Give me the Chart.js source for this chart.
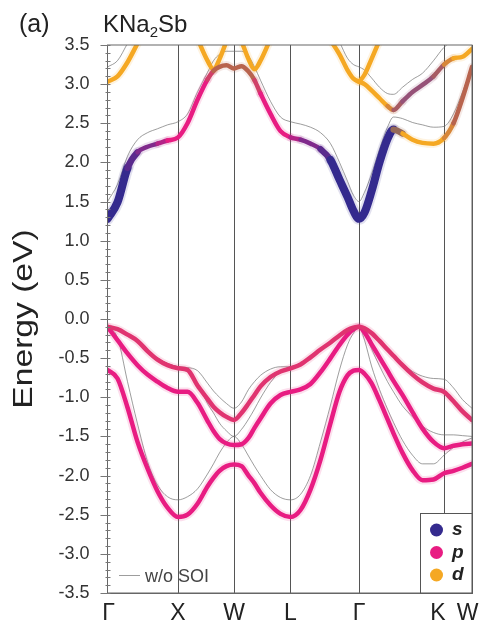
<!DOCTYPE html>
<html>
<head>
<meta charset="utf-8">
<script src="https://cdn.jsdelivr.net/npm/chart.js@4.4.1/dist/chart.umd.min.js"></script>
<style>
    body { margin: 0; background: #fff; }
    canvas { display: block; }
</style>
</head>
<body>
<canvas id="bandChart" width="479" height="625"></canvas>
<script>
// high-symmetry points along the path
var kNodes = [0, 0.705, 1.265, 1.83, 2.515, 3.365, 3.645];
var kLabels = ["Γ", "X", "W", "L", "Γ", "K", "W"];

// sampled k along Γ-X-W-L-Γ-K-W
var kPath = [
    0, 0.10, 0.20, 0.30, 0.40, 0.50, 0.60, 0.705,
    0.80, 0.90, 1.00, 1.06, 1.12, 1.19, 1.265,
    1.34, 1.41, 1.47, 1.53, 1.63, 1.73, 1.83,
    1.93, 2.03, 2.13, 2.23, 2.32, 2.40, 2.46, 2.515,
    2.57, 2.64, 2.72, 2.80, 2.86, 2.95, 3.05, 3.15, 3.26, 3.365,
    3.46, 3.55, 3.645
];

// bands with SOI (eV)
var vbHeavy = [
    -0.10, -0.13, -0.20, -0.28, -0.41, -0.52, -0.59, -0.63,
    -0.65, -0.85, -1.02, -1.12, -1.19, -1.25, -1.29,
    -1.20, -1.08, -0.97, -0.86, -0.74, -0.67, -0.63,
    -0.58, -0.49, -0.39, -0.30, -0.21, -0.14, -0.11, -0.10,
    -0.12, -0.18, -0.28, -0.39, -0.47, -0.59, -0.71, -0.81, -0.89, -0.93,
    -1.05, -1.18, -1.29
];
var vbLight = [
    -0.10, -0.27, -0.44, -0.59, -0.71, -0.80, -0.88, -0.93,
    -0.93, -1.07, -1.30, -1.43, -1.53, -1.59, -1.61,
    -1.60, -1.52, -1.39, -1.27, -1.08, -0.97, -0.93,
    -0.90, -0.83, -0.68, -0.50, -0.33, -0.20, -0.13, -0.10,
    -0.17, -0.32, -0.49, -0.66, -0.79, -0.97, -1.19, -1.40, -1.57, -1.65,
    -1.62, -1.60, -1.59
];
var vbSplit = [
    -0.65, -0.76, -1.13, -1.57, -1.91, -2.20, -2.41, -2.53,
    -2.50, -2.36, -2.14, -2.03, -1.94, -1.88, -1.86,
    -1.88, -2.00, -2.10, -2.22, -2.38, -2.49, -2.53,
    -2.44, -2.18, -1.80, -1.33, -0.93, -0.72, -0.66, -0.65,
    -0.70, -0.82, -1.04, -1.28, -1.46, -1.71, -1.93, -2.06, -2.05, -1.97,
    -1.94, -1.90, -1.85
];
var cbLow = [
    1.28, 1.49, 1.93, 2.13, 2.20, 2.24, 2.28, 2.32,
    2.50, 2.80, 3.06, 3.17, 3.22, 3.24, 3.20,
    3.23, 3.16, 3.05, 2.88, 2.62, 2.40, 2.32,
    2.29, 2.24, 2.17, 2.03, 1.78, 1.56, 1.38, 1.28,
    1.36, 1.63, 2.00, 2.30, 2.42, 2.37, 2.29, 2.25, 2.24, 2.31,
    2.50, 2.82, 3.22
];
var cbMid = [
    3.03, 3.10, 3.28, 3.52, null, null, null, null,
    null, null, null, null, null, null, null,
    null, null, null, null, null, null, null,
    null, null, null, 3.56, 3.38, 3.18, 3.07, 3.03,
    3.00, 2.92, 2.82, 2.72, 2.67, 2.78, 2.90, 2.99, 3.10, 3.25,
    3.33, 3.35, 3.45
];
var cbCross = [
    null, null, null, null, null, null, null, null,
    null, 3.58, 3.30, 3.19, 3.32, 3.55, null,
    3.55, 3.32, 3.19, 3.30, 3.58, null, null,
    null, null, null, null, null, null, null, null,
    null, null, null, null, null, null, null, null, null, null,
    null, null, null
];
var cbSteep = [
    null, null, null, null, null, null, null, null,
    null, null, null, null, null, null, null,
    null, null, null, null, null, null, null,
    null, null, null, null, null, null, null, 3.03,
    3.12, 3.32, 3.56, null, null, null, null, null, null, null,
    null, null, null
];

// orbital character per k point (s, p, d and mixes)
var cbLowChar = "sssqqqpp" + "pppbbbb" + "bbbpppp" + "qqqsssss" + "sssssddddd" + "bbb";
var cbMidChar = "dddddddd" + "ddddddd" + "ddddddd" + "dddddddd" + "ddddbmmmmb" + "ddd";

// bands without SOI (eV)
var noSoiVb1 = [
    -0.10, -0.13, -0.20, -0.28, -0.40, -0.50, -0.57, -0.61,
    -0.62, -0.66, -0.82, -0.92, -1.00, -1.08, -1.14,
    -1.06, -0.90, -0.80, -0.72, -0.64, -0.61, -0.61,
    -0.57, -0.48, -0.38, -0.29, -0.20, -0.13, -0.11, -0.10,
    -0.12, -0.17, -0.27, -0.38, -0.46, -0.57, -0.67, -0.73, -0.76, -0.77,
    -0.88, -1.03, -1.14
];
var noSoiVb2 = [
    -0.10, -0.13, -0.20, -0.28, -0.40, -0.50, -0.57, -0.61,
    -0.66, -0.82, -1.08, -1.20, -1.33, -1.43, -1.50,
    -1.41, -1.28, -1.15, -1.01, -0.81, -0.67, -0.61,
    -0.57, -0.48, -0.38, -0.29, -0.20, -0.13, -0.11, -0.10,
    -0.18, -0.38, -0.60, -0.80, -0.93, -1.11, -1.25, -1.37, -1.45, -1.48,
    -1.48, -1.49, -1.50
];
var noSoiVb3 = [
    -0.10, -0.24, -0.80, -1.34, -1.82, -2.12, -2.27, -2.31,
    -2.27, -2.17, -1.98, -1.85, -1.71, -1.58, -1.50,
    -1.60, -1.75, -1.88, -2.00, -2.18, -2.28, -2.31,
    -2.24, -2.00, -1.57, -1.10, -0.65, -0.33, -0.18, -0.10,
    -0.27, -0.60, -0.90, -1.15, -1.32, -1.55, -1.74, -1.85, -1.85, -1.74,
    -1.64, -1.57, -1.52
];
var noSoiCb1 = [
    1.50, 1.72, 2.08, 2.29, 2.38, 2.43, 2.48, 2.52,
    2.62, 2.90, 3.15, 3.30, 3.38, 3.42, 3.42,
    3.42, 3.36, 3.22, 3.05, 2.78, 2.58, 2.52,
    2.49, 2.45, 2.38, 2.24, 2.00, 1.76, 1.58, 1.50,
    1.62, 1.85, 2.17, 2.45, 2.58, 2.56, 2.51, 2.48, 2.45, 2.46,
    2.62, 2.90, 3.22
];
var noSoiCb2 = [
    3.22, 3.30, 3.52, null, null, null, null, null,
    null, null, null, null, null, null, null,
    null, null, null, null, null, null, null,
    null, null, null, null, 3.54, 3.33, 3.25, 3.22,
    3.18, 3.08, 2.96, 2.88, 2.87, 2.96, 3.06, 3.14, 3.30, 3.47,
    3.56, null, null
];

var FONT = "'Liberation Sans', Arial, sans-serif";
var orbitalRgb = {
    s: [52, 42, 142],
    q: [128, 42, 140],
    p: [232, 28, 130],
    r: [224, 52, 112],
    b: [184, 100, 78],
    m: [150, 82, 120],
    d: [245, 168, 35]
};

function repeatChar(ch) {
    return new Array(kPath.length + 1).join(ch);
}

function toPoints(values) {
    return kPath.map(function (k, i) {
        return {x: k, y: values[i]};
    });
}

function segColor(chars, alpha) {
    return function (ctx) {
        var a = orbitalRgb[chars[ctx.p0DataIndex]];
        var b = orbitalRgb[chars[ctx.p1DataIndex]];
        return 'rgba(' + Math.round((a[0] + b[0]) / 2) + ',' + Math.round((a[1] + b[1]) / 2) + ','
            + Math.round((a[2] + b[2]) / 2) + ',' + alpha + ')';
    };
}

// s-like states are drawn fatter, like the larger projection dots
function segWidth(chars, extra) {
    return function (ctx) {
        var s = (chars[ctx.p0DataIndex] === 's') + (chars[ctx.p1DataIndex] === 's');
        return 4.5 + s * 1.8 + extra;
    };
}

function fatBand(values, chars, alpha, extra) {
    return {
        data: toPoints(values),
        borderColor: 'rgba(232,28,130,' + alpha + ')',
        borderWidth: 4.5 + extra,
        segment: {borderColor: segColor(chars, alpha), borderWidth: segWidth(chars, extra)}
    };
}

function thinBand(values) {
    return {
        data: toPoints(values),
        borderColor: 'rgba(110,110,110,0.85)',
        borderWidth: 0.8
    };
}

var fatBands = [
    [vbHeavy, repeatChar('r')],
    [vbLight, repeatChar('p')],
    [vbSplit, repeatChar('p')],
    [cbLow, cbLowChar],
    [cbMid, cbMidChar],
    [cbCross, repeatChar('d')],
    [cbSteep, repeatChar('d')]
];

var datasets = [];
fatBands.forEach(function (band) {
    datasets.push(fatBand(band[0], band[1], 1, 0));
});
fatBands.forEach(function (band) {
    datasets.push(fatBand(band[0], band[1], 0.14, 4));
});
[noSoiVb1, noSoiVb2, noSoiVb3, noSoiCb1, noSoiCb2].forEach(function (values) {
    datasets.push(thinBand(values));
});
datasets.forEach(function (ds) {
    ds.clip = 0;
    ds.pointRadius = 0;
    ds.fill = false;
});

// frame, minor ticks, k labels, titles and the two legends
var decorations = {
    id: 'decorations',
    afterDraw: function (chart) {
        var ctx = chart.ctx;
        var area = chart.chartArea;
        var xScale = chart.scales.x;
        var yScale = chart.scales.y;
        ctx.save();

        ctx.strokeStyle = '#666';
        ctx.lineWidth = 1;
        ctx.strokeRect(area.left, area.top, area.right - area.left, area.bottom - area.top);

        ctx.beginPath();
        for (var i = -35; i <= 35; i++) {
            var y = Math.round(yScale.getPixelForValue(i / 10)) + 0.5;
            var major = i % 5 === 0;
            ctx.moveTo(area.left - (major ? 7 : 2), y);
            ctx.lineTo(area.left + 3, y);
        }
        ctx.strokeStyle = '#777';
        ctx.stroke();

        // K and the closing W sit close together, so pull them in a little
        var labelNudge = [1, 0, 0, 0, 0, -6, -4.5];
        ctx.fillStyle = '#222';
        ctx.textAlign = 'center';
        ctx.textBaseline = 'alphabetic';
        ctx.font = '23px ' + FONT;
        kNodes.forEach(function (k, j) {
            ctx.fillText(kLabels[j], xScale.getPixelForValue(k) + labelNudge[j], 620);
        });

        ctx.textAlign = 'left';
        ctx.font = '25px ' + FONT;
        ctx.fillText('(a)', 19, 32);

        ctx.font = '24px ' + FONT;
        var x = 103;
        ctx.fillText('KNa', x, 32);
        x += ctx.measureText('KNa').width;
        ctx.font = '15px ' + FONT;
        ctx.fillText('2', x, 37);
        x += ctx.measureText('2').width;
        ctx.font = '24px ' + FONT;
        ctx.fillText('Sb', x, 32);

        ctx.save();
        ctx.translate(32, (area.top + area.bottom) / 2);
        ctx.rotate(-Math.PI / 2);
        ctx.scale(1.2, 1);
        ctx.textAlign = 'center';
        ctx.font = '28px ' + FONT;
        ctx.fillText('Energy (eV)', 0, 0);
        ctx.restore();

        // w/o SOI legend
        ctx.beginPath();
        ctx.moveTo(119, 575.5);
        ctx.lineTo(140, 575.5);
        ctx.strokeStyle = 'rgba(110,110,110,0.85)';
        ctx.lineWidth = 0.8;
        ctx.stroke();
        ctx.fillStyle = '#444';
        ctx.font = '18px ' + FONT;
        ctx.fillText('w/o SOI', 145, 582);

        // orbital legend
        var boxLeft = 420.5, boxTop = 513.5;
        ctx.fillStyle = '#fff';
        ctx.fillRect(boxLeft, boxTop, area.right - boxLeft, area.bottom - boxTop);
        ctx.strokeStyle = '#555';
        ctx.lineWidth = 1;
        ctx.strokeRect(boxLeft, boxTop, area.right - boxLeft, area.bottom - boxTop);
        ['s', 'p', 'd'].forEach(function (name, j) {
            var cy = 530 + j * 22.5;
            var c = orbitalRgb[name];
            ctx.beginPath();
            ctx.arc(436.5, cy, 6.5, 0, Math.PI * 2);
            ctx.fillStyle = 'rgb(' + c.join(',') + ')';
            ctx.fill();
            ctx.fillStyle = '#222';
            ctx.font = 'italic bold 19px ' + FONT;
            ctx.fillText(name, 452, cy + 5);
        });
        ctx.restore();
    }
};

var bandChart = new Chart(document.getElementById('bandChart'), {
    type: 'line',
    data: {datasets: datasets},
    options: {
        responsive: false,
        animation: false,
        devicePixelRatio: 1,
        layout: {padding: {top: 45, right: 7, left: 0, bottom: 0}},
        plugins: {legend: {display: false}, tooltip: {enabled: false}},
        elements: {
            point: {radius: 0},
            line: {cubicInterpolationMode: 'monotone', borderCapStyle: 'round', borderJoinStyle: 'round'}
        },
        scales: {
            x: {
                type: 'linear',
                min: 0,
                max: kNodes[kNodes.length - 1],
                afterBuildTicks: function (scale) {
                    scale.ticks = kNodes.map(function (v) {
                        return {value: v};
                    });
                },
                afterFit: function (scale) {
                    scale.height = 32;
                    scale.paddingLeft = 0;
                    scale.paddingRight = 0;
                },
                ticks: {display: false},
                grid: {color: '#555', lineWidth: 1, drawTicks: false},
                border: {color: '#666', width: 1}
            },
            y: {
                min: -3.5,
                max: 3.5,
                afterFit: function (scale) {
                    scale.width = 107.5;
                    scale.paddingTop = 0;
                    scale.paddingBottom = 0;
                },
                ticks: {
                    stepSize: 0.5,
                    padding: 18,
                    color: '#333',
                    font: {family: FONT, size: 18},
                    callback: function (v) {
                        return v.toFixed(1);
                    }
                },
                grid: {drawOnChartArea: false, drawTicks: false},
                border: {color: '#666', width: 1}
            }
        }
    },
    plugins: [decorations]
});
</script>
</body>
</html>
